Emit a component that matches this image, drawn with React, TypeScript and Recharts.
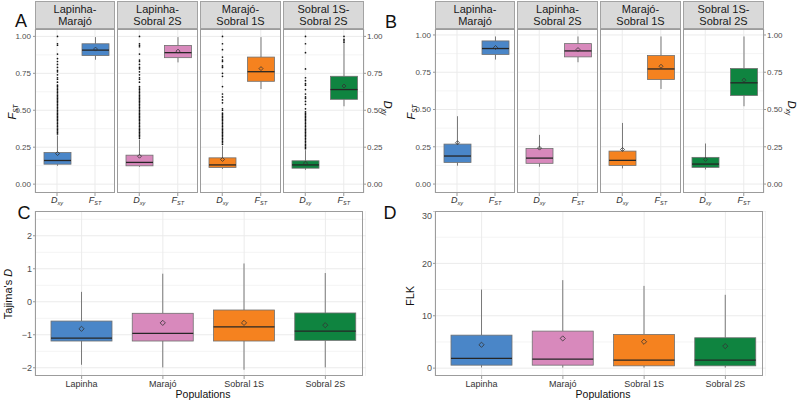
import React from "react";
import { ComposedChart, Bar, XAxis, YAxis, CartesianGrid } from "recharts";

const font = "'Liberation Sans', Arial, sans-serif";

const pairs = [
  ["Lapinha-", "Marajó"],
  ["Lapinha-", "Sobral 2S"],
  ["Marajó-", "Sobral 1S"],
  ["Sobral 1S-", "Sobral 2S"],
];
const stats = ["Dxy", "Fst"];
const statLabels = [
  ["D", "xy"],
  ["F", "ST"],
];
const populations = ["Lapinha", "Marajó", "Sobral 1S", "Sobral 2S"];
const colors = ["#4A86C8", "#D889BC", "#F5821F", "#0F8440"];

// each box: [lower whisker, Q1, median, Q3, upper whisker, mean]
const aDxy = [
  [0.124, 0.135, 0.16, 0.214, 0.33, 0.207],
  [0.117, 0.124, 0.147, 0.196, 0.3, 0.189],
  [0.103, 0.113, 0.13, 0.178, 0.26, 0.167],
  [0.097, 0.108, 0.13, 0.158, 0.23, 0.142],
];
const aFst = [
  [0.842, 0.87, 0.907, 0.95, 0.995, 0.914],
  [0.824, 0.856, 0.89, 0.939, 0.995, 0.9],
  [0.644, 0.696, 0.761, 0.86, 0.995, 0.782],
  [0.527, 0.574, 0.64, 0.73, 0.953, 0.664],
];
const aDxyOutliers = [
  [0.34, 0.35, 0.36, 0.37, 0.38, 0.39, 0.4, 0.41, 0.42, 0.43, 0.44, 0.45, 0.46, 0.47, 0.48, 0.49, 0.5, 0.51, 0.52, 0.53,
    0.54, 0.55, 0.56, 0.57, 0.58, 0.59, 0.6, 0.61, 0.62, 0.63, 0.64, 0.65, 0.66, 0.67, 0.69, 0.71, 0.72, 0.74, 0.76,
    0.77, 0.79, 0.81, 0.83, 0.85, 0.88, 0.94, 0.95, 1.0],
  [0.31, 0.32, 0.33, 0.34, 0.35, 0.36, 0.37, 0.38, 0.39, 0.4, 0.41, 0.42, 0.43, 0.44, 0.45, 0.46, 0.47, 0.48, 0.49, 0.5,
    0.51, 0.52, 0.53, 0.54, 0.55, 0.56, 0.57, 0.58, 0.59, 0.6, 0.61, 0.62, 0.63, 0.64, 0.65, 0.66, 0.69, 0.71, 0.72,
    0.74, 0.76, 0.78, 0.79, 0.81, 0.83, 0.84, 0.88, 0.93, 0.94, 0.95, 1.0],
  [0.27, 0.28, 0.29, 0.3, 0.31, 0.32, 0.33, 0.34, 0.35, 0.36, 0.37, 0.38, 0.39, 0.4, 0.41, 0.42, 0.43, 0.44, 0.45, 0.46,
    0.47, 0.48, 0.5, 0.51, 0.55, 0.57, 0.59, 0.61, 0.66, 0.73, 0.75, 0.79, 0.8, 0.83, 0.84, 0.86, 0.91, 0.95, 1.0],
  [0.24, 0.25, 0.26, 0.27, 0.28, 0.29, 0.3, 0.31, 0.32, 0.33, 0.34, 0.35, 0.36, 0.37, 0.38, 0.39, 0.4, 0.41, 0.42, 0.43,
    0.44, 0.45, 0.46, 0.47, 0.48, 0.49, 0.51, 0.54, 0.56, 0.58, 0.59, 0.61, 0.64, 0.67, 0.68, 0.7, 0.72, 0.78, 0.89,
    0.95, 1.0],
];
const aFstOutliers = [[], [], [], [0.96, 0.97, 0.98, 1.0]];

const bDxy = [
  [0.123, 0.145, 0.188, 0.268, 0.455, 0.277],
  [0.116, 0.139, 0.174, 0.239, 0.33, 0.241],
  [0.105, 0.125, 0.159, 0.221, 0.41, 0.232],
  [0.098, 0.112, 0.134, 0.179, 0.272, 0.165],
];
const bFst = [
  [0.835, 0.869, 0.909, 0.96, 0.99, 0.916],
  [0.817, 0.853, 0.893, 0.942, 0.99, 0.902],
  [0.638, 0.701, 0.772, 0.862, 0.99, 0.79],
  [0.522, 0.594, 0.679, 0.775, 0.99, 0.697],
];

const tajima = [
  [-1.91, -1.19, -1.1, -0.585, 0.3, -0.82],
  [-1.99, -1.19, -0.96, -0.35, 0.85, -0.64],
  [-2.06, -1.19, -0.76, -0.25, 1.16, -0.64],
  [-1.99, -1.17, -0.89, -0.34, 0.87, -0.71],
];
const flk = [
  [0.13, 0.57, 1.85, 6.3, 15.0, 4.46],
  [0.1, 0.57, 1.72, 7.07, 16.8, 5.67],
  [0.1, 0.44, 1.53, 6.44, 15.7, 5.04],
  [0.1, 0.44, 1.53, 5.8, 14.0, 4.2],
];

const unitTicks = [0, 0.25, 0.5, 0.75, 1];
const unitMinor = [0.125, 0.375, 0.625, 0.875];
const tajimaTicks = [-2, -1, 0, 1, 2];
const tajimaMinor = [-1.5, -0.5, 0.5, 1.5, 2.5];
const flkTicks = [0, 10, 20, 30];
const flkMinor = [5, 15, 25];

const BoxShape = (props: any) => {
  const { x, y, width, height, payload } = props;
  const [lo, q1, med, q3, hi, mean] = payload.s;
  const top = Math.min(y, y + height);
  const h = Math.abs(height);
  const ppu = h / (q3 - q1);
  const py = (v: number) => top + (q3 - v) * ppu;
  const cx = x + width / 2;
  const my = py(mean);
  const d = payload.small ? 2 : 2.6;
  return (
    <g>
      <line x1={cx} x2={cx} y1={py(hi)} y2={top} stroke="#7a7a7a" strokeWidth={1} />
      <line x1={cx} x2={cx} y1={top + h} y2={py(lo)} stroke="#7a7a7a" strokeWidth={1} />
      <rect x={x} y={top} width={width} height={h} fill={payload.color} stroke="#707070" strokeWidth={0.8} />
      <line x1={x} x2={x + width} y1={py(med)} y2={py(med)} stroke="#262626" strokeWidth={1.3} />
      {(payload.out || []).map((o: number, i: number) => (
        <circle key={i} cx={cx} cy={py(o)} r={0.85} fill="#111" />
      ))}
      <path
        d={`M${cx} ${my - d}L${cx + d} ${my}L${cx} ${my + d}L${cx - d} ${my}Z`}
        fill="none"
        stroke="#333"
        strokeWidth={0.8}
      />
    </g>
  );
};

const StatTick = ({ x, y, payload }: any) => {
  const [main, sub] = statLabels[stats.indexOf(payload.value)];
  return (
    <text x={x} y={y + 5} textAnchor="middle" fontFamily={font} fill="#333" fontStyle="italic">
      <tspan fontSize={9}>{main}</tspan>
      <tspan fontSize={5.5} dy={2}>
        {sub}
      </tspan>
    </text>
  );
};

const borderStyle = (left: number, top: number, w: number, h: number): React.CSSProperties => ({
  position: "absolute",
  left,
  top,
  width: w,
  height: h,
  border: "1px solid #9c9c9c",
  boxSizing: "border-box",
  pointerEvents: "none",
});

function Facet({ i, left, w, dxy, fst, dxyOut, fstOut, domain, axis }: any) {
  const top = 29;
  const h = 164;
  const lw = axis === "left" ? 35 : 0;
  const rw = axis === "right" ? 24 : 0;
  const data = [
    { name: stats[0], box: [dxy[1], dxy[3]], s: dxy, out: dxyOut, color: colors[i], small: true },
    { name: stats[1], box: [fst[1], fst[3]], s: fst, out: fstOut, color: colors[i], small: true },
  ];
  return (
    <>
      <div style={{ position: "absolute", left: left - lw, top }}>
        <ComposedChart width={w + lw + rw} height={h + 16} data={data} margin={{ top: 0, right: 0, bottom: 0, left: 0 }}>
          <CartesianGrid horizontalValues={unitMinor} vertical={false} stroke="#f4f4f4" />
          <CartesianGrid horizontalValues={unitTicks} stroke="#ebebeb" />
          <XAxis
            dataKey="name"
            type="category"
            height={16}
            axisLine={false}
            tickSize={3}
            tickLine={{ stroke: "#999" }}
            tick={<StatTick />}
            padding={{ left: 3, right: 1 }}
            interval={0}
          />
          <YAxis
            type="number"
            domain={domain}
            ticks={unitTicks}
            hide={axis === "none"}
            orientation={axis === "right" ? "right" : "left"}
            width={axis === "right" ? rw : lw}
            axisLine={false}
            tickSize={2}
            tickMargin={axis === "right" ? 1 : 2}
            tickLine={{ stroke: "#999" }}
            tick={{ fontSize: 8, fill: "#4d4d4d", fontFamily: font }}
            tickFormatter={(v: number) => v.toFixed(2)}
          />
          <Bar dataKey="box" barSize={27} isAnimationActive={false} shape={BoxShape} />
        </ComposedChart>
      </div>
      <div style={borderStyle(left, top, w, h)} />
      <div
        style={{
          position: "absolute",
          left,
          top: 1,
          width: w,
          height: 28,
          background: "#d9d9d9",
          border: "1px solid #a3a3a3",
          boxSizing: "border-box",
          display: "flex",
          flexDirection: "column",
          alignItems: "center",
          justifyContent: "center",
          fontSize: 11,
          lineHeight: "12.4px",
          color: "#1a1a1a",
        }}
      >
        <span>{pairs[i][0]}</span>
        <span>{pairs[i][1]}</span>
      </div>
    </>
  );
}

function PopPanel({ left, values, domain, ticks, minor }: any) {
  const top = 211;
  const h = 165;
  const data = populations.map((p, i) => ({
    name: p,
    box: [values[i][1], values[i][3]],
    s: values[i],
    color: colors[i],
  }));
  return (
    <>
      <div style={{ position: "absolute", left: left - 35, top }}>
        <ComposedChart width={366} height={h + 22} data={data} margin={{ top: 0, right: 0, bottom: 0, left: 0 }}>
          <CartesianGrid horizontalValues={minor} vertical={false} stroke="#f4f4f4" />
          <CartesianGrid horizontalValues={ticks} stroke="#ebebeb" />
          <XAxis
            dataKey="name"
            type="category"
            height={22}
            axisLine={false}
            tickSize={3}
            tickLine={{ stroke: "#999" }}
            tick={{ fontSize: 9, fill: "#333", fontFamily: font }}
            padding={{ left: 6, right: 0 }}
            interval={0}
          />
          <YAxis
            type="number"
            domain={domain}
            ticks={ticks}
            width={35}
            axisLine={false}
            tickSize={2}
            tickMargin={1}
            tickLine={{ stroke: "#999" }}
            tick={{ fontSize: 9, fill: "#4d4d4d", fontFamily: font }}
            tickFormatter={(v: number) => (v < 0 ? "\u2212" + Math.abs(v) : String(v))}
          />
          <Bar dataKey="box" barSize={61} isAnimationActive={false} shape={BoxShape} />
        </ComposedChart>
      </div>
      <div style={borderStyle(left, top, 328, h)} />
    </>
  );
}

const facetLeftsA = [35, 117, 200, 283];
const facetLeftsB = [435, 517, 600, 683];
const facetWidths = [80, 81, 81, 81];

export default function App() {
  return (
    <div
      style={{
        position: "absolute",
        left: 0,
        top: 0,
        width: 800,
        height: 401,
        background: "#fff",
        fontFamily: font,
        overflow: "hidden",
      }}
    >
      {facetLeftsA.map((l, i) => (
        <Facet
          key={"a" + i}
          i={i}
          left={l}
          w={facetWidths[i]}
          dxy={aDxy[i]}
          fst={aFst[i]}
          dxyOut={aDxyOutliers[i]}
          fstOut={aFstOutliers[i]}
          domain={[-0.06, 1.05]}
          axis={i === 0 ? "left" : i === 3 ? "right" : "none"}
        />
      ))}
      {facetLeftsB.map((l, i) => (
        <Facet
          key={"b" + i}
          i={i}
          left={l}
          w={facetWidths[i]}
          dxy={bDxy[i]}
          fst={bFst[i]}
          dxyOut={[]}
          fstOut={[]}
          domain={[-0.06, 1.04]}
          axis={i === 0 ? "left" : i === 3 ? "right" : "none"}
        />
      ))}
      <PopPanel left={35} values={tajima} domain={[-2.25, 2.75]} ticks={tajimaTicks} minor={tajimaMinor} />
      <PopPanel left={435} values={flk} domain={[-1.5, 30]} ticks={flkTicks} minor={flkMinor} />

      <svg width={800} height={401} style={{ position: "absolute", left: 0, top: 0, pointerEvents: "none" }}>
        <g fontFamily={font} fill="#111">
          <text x={21} y={27} fontSize={18} textAnchor="middle">A</text>
          <text x={391} y={28} fontSize={18} textAnchor="middle">B</text>
          <text x={24} y={219} fontSize={18} textAnchor="middle">C</text>
          <text x={390} y={219} fontSize={18} textAnchor="middle">D</text>

          <text transform="translate(16,112) rotate(-90)" textAnchor="middle" fontStyle="italic">
            <tspan fontSize={11}>F</tspan>
            <tspan fontSize={6.5} dy={2}>ST</tspan>
          </text>
          <text transform="translate(384,108) rotate(90)" textAnchor="middle" fontStyle="italic">
            <tspan fontSize={11}>D</tspan>
            <tspan fontSize={6.5} dy={2}>xy</tspan>
          </text>
          <text transform="translate(415,112) rotate(-90)" textAnchor="middle" fontStyle="italic">
            <tspan fontSize={11}>F</tspan>
            <tspan fontSize={6.5} dy={2}>ST</tspan>
          </text>
          <text transform="translate(788,108) rotate(90)" textAnchor="middle" fontStyle="italic">
            <tspan fontSize={11}>D</tspan>
            <tspan fontSize={6.5} dy={2}>xy</tspan>
          </text>

          <text transform="translate(12,294) rotate(-90)" textAnchor="middle" fontSize={11}>
            Tajima's <tspan fontStyle="italic">D</tspan>
          </text>
          <text transform="translate(414,296) rotate(-90)" textAnchor="middle" fontSize={11}>
            FLK
          </text>
          <text x={203} y={398} textAnchor="middle" fontSize={10.5}>Populations</text>
          <text x={603} y={398} textAnchor="middle" fontSize={10.5}>Populations</text>
        </g>
      </svg>
    </div>
  );
}
